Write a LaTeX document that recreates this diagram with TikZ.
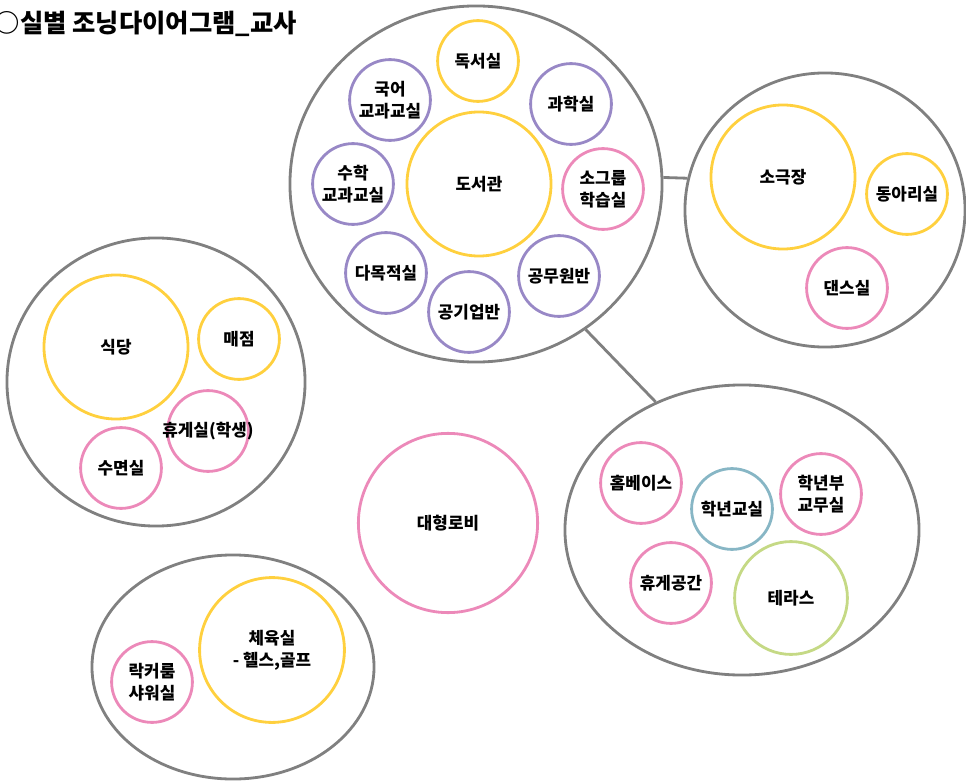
\documentclass[tikz,border=0pt]{standalone}
\usepackage{fontspec}
\setmainfont{Noto Sans CJK KR}
\usetikzlibrary{shapes.geometric}
\definecolor{Stone}{HTML}{808080}
\definecolor{Sun}{HTML}{FFD03E}
\definecolor{Rose}{HTML}{EC89B9}
\definecolor{Lilac}{HTML}{9888C6}
\definecolor{Sky}{HTML}{87B6C5}
\definecolor{Leaf}{HTML}{C5D985}

\begin{document}
\begin{tikzpicture}[x=0.025cm,y=-0.025cm,
    zone/.style={ellipse,draw=Stone,line width=2pt,inner sep=0pt},
    room/.style={circle,line width=2pt,inner sep=0pt,minimum size=2.02cm,align=center,font=\fontsize{12}{15.5}\selectfont\bfseries},
    hall/.style={room,minimum size=3.6cm}]
    \useasboundingbox (0,0) rectangle (966,781);

    \node[anchor=base west,font=\fontsize{18}{22}\selectfont\bfseries] (title) at (-10,33) {○실별 조닝다이어그램\_교사};

    \node[zone,minimum width=9.3cm,minimum height=8.9cm] (lib) at (476,184) {};
    \node[hall,draw=Sun] (library) at (479,184) {도서관};
    \node[room,draw=Sun] (reading) at (478,61) {독서실};
    \node[room,draw=Lilac] (korean) at (390,100) {국어\\교과교실};
    \node[room,draw=Lilac] (science) at (571,104) {과학실};
    \node[room,draw=Lilac] (math) at (353,184) {수학\\교과교실};
    \node[room,draw=Rose] (group) at (603,189) {소그룹\\학습실};
    \node[room,draw=Lilac] (multi) at (386,273) {다목적실};
    \node[room,draw=Lilac] (civil) at (559,276) {공무원반};
    \node[room,draw=Lilac] (public) at (469,312) {공기업반};

    \node[zone,minimum width=7.0cm,minimum height=6.85cm] (stage) at (825,210) {};
    \node[hall,draw=Sun] (theater) at (783,177) {소극장};
    \node[room,draw=Sun] (club) at (907,194) {동아리실};
    \node[room,draw=Rose] (dance) at (847,288) {댄스실};

    \node[zone,minimum width=8.85cm,minimum height=7.25cm] (floor) at (742,530) {};
    \node[room,draw=Rose] (home) at (641,483) {홈베이스};
    \node[room,draw=Sky] (grade) at (732,509) {학년교실};
    \node[room,draw=Rose] (office) at (821,494) {학년부\\교무실};
    \node[room,draw=Rose] (rest) at (671,583) {휴게공간};
    \node[room,draw=Leaf,minimum size=2.82cm] (terrace) at (791,598) {테라스};

    \node[zone,minimum width=7.45cm,minimum height=7.2cm] (cafe) at (156,382) {};
    \node[hall,draw=Sun] (dining) at (116,347) {식당};
    \node[room,draw=Sun] (shop) at (239,339) {매점};
    \node[room,draw=Rose] (lounge) at (208,431) {\makebox[0pt]{휴게실(학생)}};
    \node[room,draw=Rose] (nap) at (121,468) {수면실};

    \node[zone,minimum width=7.05cm,minimum height=5.6cm] (sport) at (233,667) {};
    \node[hall,draw=Sun,minimum size=3.62cm] (gym) at (272,650) {체육실\\- 헬스,골프};
    \node[room,draw=Rose] (locker) at (152,682) {락커룸\\샤워실};

    \node[room,draw=Rose,minimum size=4.48cm] (lobby) at (448,523) {대형로비};

    \draw[Stone,line width=2pt] (lib.2) -- (stage.167);
    \draw[Stone,line width=2pt] (lib.-53) -- (floor.124);
  \end{tikzpicture}
\end{document}
